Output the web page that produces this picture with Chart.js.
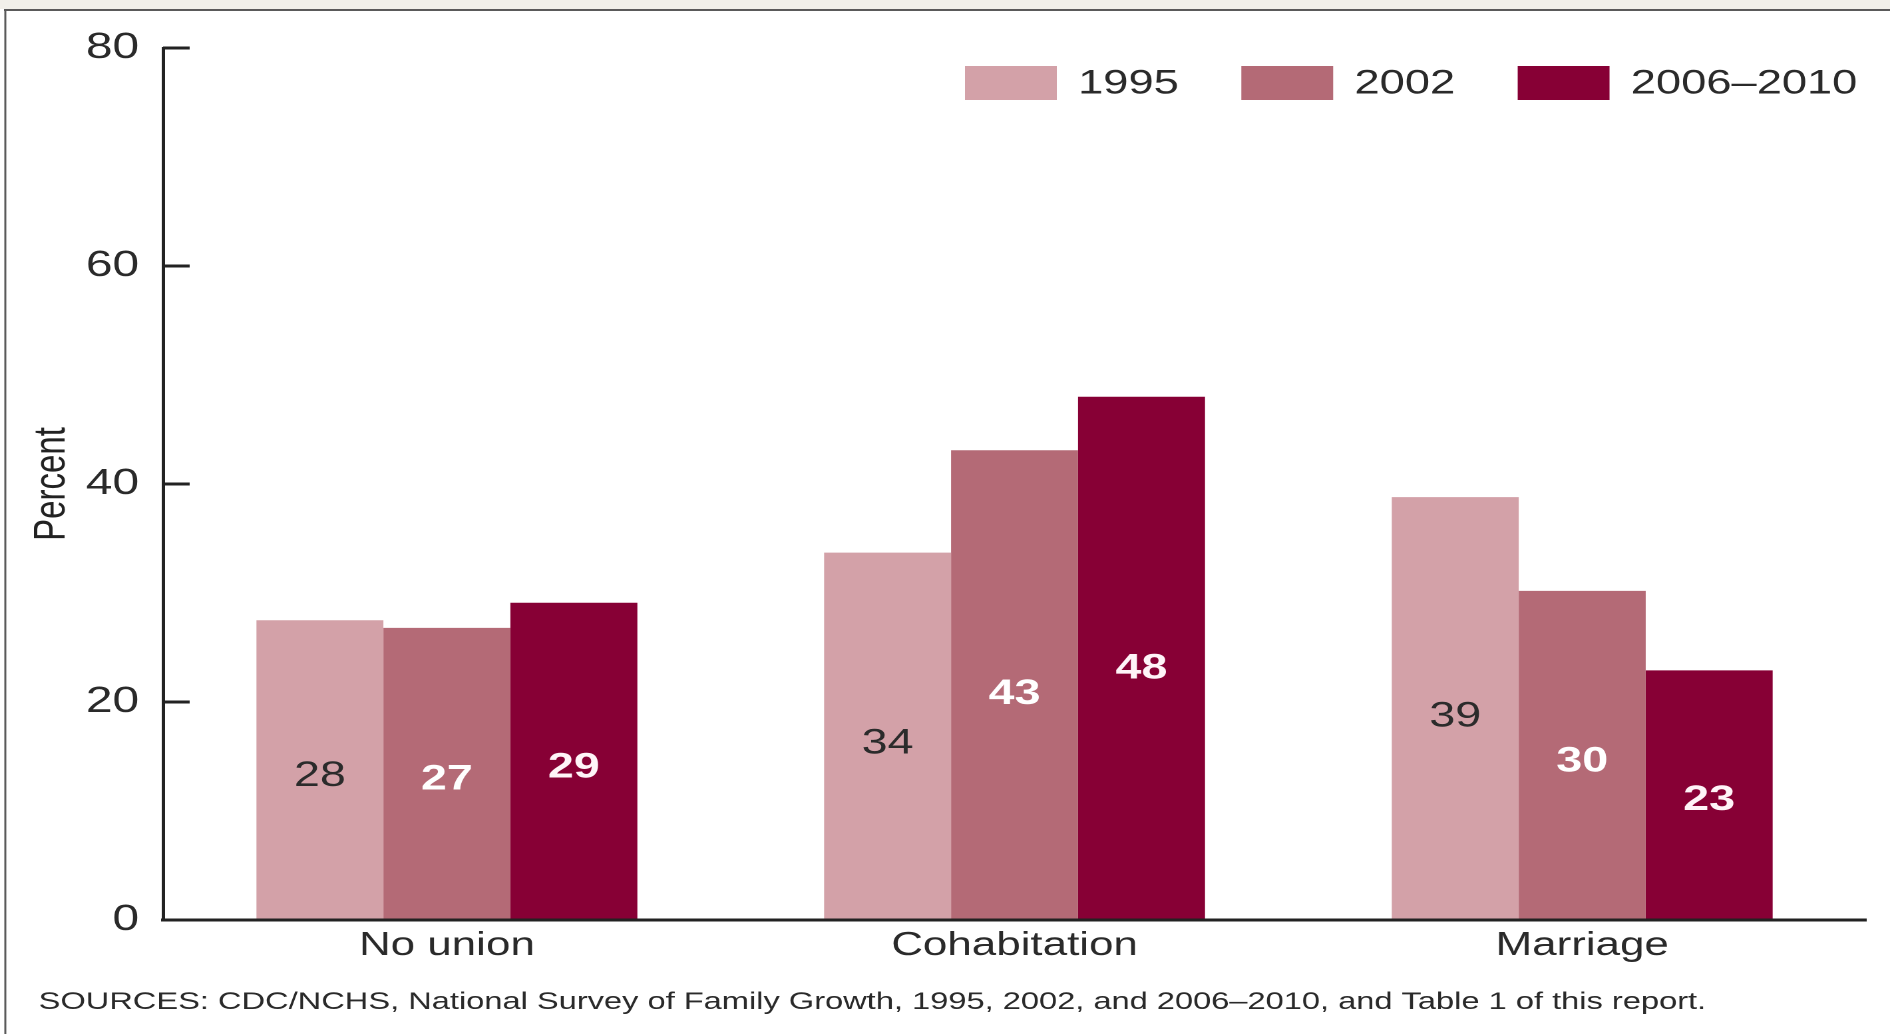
<!DOCTYPE html>
<html><head><meta charset="utf-8">
<script src="https://cdn.jsdelivr.net/npm/chart.js@4.4.1/dist/chart.umd.min.js"></script>
<style>html,body{margin:0;padding:0;background:#fff;overflow:hidden}</style>
</head><body>
<canvas id="c" width="1420" height="1034" style="display:block;width:1890px;height:1034px"></canvas>
<script>
// ---- data ----
const categories = ['No union', 'Cohabitation', 'Marriage'];
const seriesLabels = ['1995', '2002', '2006\u20132010'];
const values1995 = [27.5, 33.7, 38.8];
const values2002 = [26.8, 43.1, 30.2];
const values2006_2010 = [29.1, 48.0, 22.9];
const yTicks = [0, 20, 40, 60, 80];
const yTitle = 'Percent';
const sourceNote = 'SOURCES: CDC/NCHS, National Survey of Family Growth, 1995, 2002, and 2006\u20132010, and Table 1 of this report.';

// ---- style ----
const colors = ['#D3A1A8', '#B46A76', '#870035'];
const valueLabelColors = ['#2b2b2b', '#ffffff', '#fff4f8'];
const FONT = "'Liberation Sans', Arial, Helvetica, sans-serif";
const TEXT = '#2a2a2a';

const framePlugin = {
  id: 'frame',
  beforeDraw(chart) {
    const ctx = chart.ctx;
    ctx.save();
    ctx.fillStyle = '#ffffff';
    ctx.fillRect(0, 0, chart.width, chart.height);
    ctx.fillStyle = '#f1f0ea';
    ctx.fillRect(0, 0, chart.width, 9);
    ctx.strokeStyle = '#5a5a5a';
    ctx.lineWidth = 2;
    ctx.beginPath(); ctx.moveTo(3, 10); ctx.lineTo(chart.width, 10); ctx.stroke();
    ctx.lineWidth = 1.5;
    ctx.beginPath(); ctx.moveTo(4, 10); ctx.lineTo(4, chart.height); ctx.stroke();
    ctx.restore();
  }
};

const inwardTicks = {
  id: 'inwardTicks',
  afterDraw(chart) {
    const ctx = chart.ctx, ys = chart.scales.y, x0 = chart.chartArea.left;
    ctx.save();
    ctx.strokeStyle = '#222';
    ctx.lineWidth = 3;
    ys.ticks.forEach(t => {
      const py = ys.getPixelForValue(t.value);
      ctx.beginPath(); ctx.moveTo(x0, py); ctx.lineTo(x0 + 20, py); ctx.stroke();
    });
    ctx.restore();
  }
};

const valueLabels = {
  id: 'valueLabels',
  afterDatasetsDraw(chart) {
    const ctx = chart.ctx;
    ctx.save();
    ctx.textAlign = 'center';
    ctx.textBaseline = 'middle';
    chart.data.datasets.forEach((ds, di) => {
      const meta = chart.getDatasetMeta(di);
      ctx.font = (di === 0 ? '' : 'bold ') + '35px ' + FONT;
      ctx.fillStyle = valueLabelColors[di];
      meta.data.forEach((el, i) => {
        const y = el.base - 0.48 * (el.base - el.y);
        ctx.fillText(String(Math.round(ds.data[i])), el.x, y);
      });
    });
    ctx.restore();
  }
};

const customLegend = {
  id: 'customLegend',
  afterDraw(chart) {
    const ctx = chart.ctx;
    const boxW = 69, boxH = 34, boxTop = 66, textY = 84, gap = 16, itemGap = 47;
    let x = 725;
    ctx.save();
    ctx.font = '34px ' + FONT;
    ctx.textBaseline = 'middle';
    ctx.textAlign = 'left';
    chart.data.datasets.forEach(ds => {
      ctx.fillStyle = ds.backgroundColor;
      ctx.fillRect(x, boxTop, boxW, boxH);
      ctx.fillStyle = TEXT;
      ctx.fillText(ds.label, x + boxW + gap, textY);
      x += boxW + gap + ctx.measureText(ds.label).width + itemGap;
    });
    ctx.restore();
  }
};

const sourcePlugin = {
  id: 'sourceNote',
  afterDraw(chart) {
    const ctx = chart.ctx;
    ctx.save();
    ctx.font = '24.5px ' + FONT;
    ctx.fillStyle = TEXT;
    ctx.textBaseline = 'middle';
    ctx.textAlign = 'left';
    ctx.fillText(sourceNote, 29, 1002);
    ctx.restore();
  }
};

new Chart(document.getElementById('c'), {
  type: 'bar',
  data: {
    labels: categories,
    datasets: [
      { label: seriesLabels[0], data: values1995, backgroundColor: colors[0] },
      { label: seriesLabels[1], data: values2002, backgroundColor: colors[1] },
      { label: seriesLabels[2], data: values2006_2010, backgroundColor: colors[2] }
    ]
  },
  options: {
    responsive: false,
    devicePixelRatio: 2,
    animation: false,
    layout: { padding: { left: 0, right: 18, top: 48, bottom: 0 } },
    datasets: { bar: { categoryPercentage: 0.671, barPercentage: 1.0 } },
    plugins: { legend: { display: false }, tooltip: { enabled: false } },
    scales: {
      x: {
        grid: { display: false },
        border: { display: true, color: '#222', width: 3, z: 1 },
        ticks: { font: { family: FONT, size: 33 }, color: TEXT, padding: -2 },
        afterFit(s) { s.height = 114; }
      },
      y: {
        min: 0, max: 80,
        afterBuildTicks(s) { s.ticks = yTicks.map(v => ({ value: v })); },
        grid: { display: false },
        border: { display: true, color: '#222', width: 2.5 },
        ticks: { font: { family: FONT, size: 36 }, color: TEXT, padding: 10 },
        title: { display: true, text: yTitle, font: { family: FONT, size: 33 }, color: '#222', padding: { top: 19.5, bottom: 0 } },
        afterFit(s) { s.width = 122.5; }
      }
    }
  },
  plugins: [framePlugin, inwardTicks, valueLabels, customLegend, sourcePlugin]
});
</script>
</body></html>
